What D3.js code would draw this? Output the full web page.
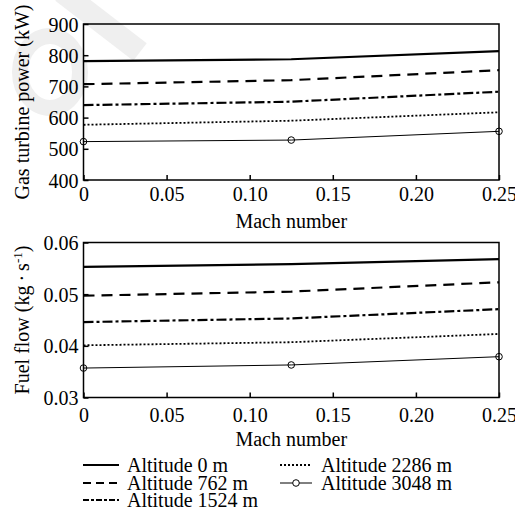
<!DOCTYPE html>
<html>
<head>
<meta charset="utf-8">
<script src="https://cdn.jsdelivr.net/npm/d3@7"></script>
</head>
<body style="margin:0;background:#fff">
<div id="chart"></div>
<script>
// DATA
var machNumbers = [0, 0.125, 0.25];
var altitudeLabels = ["Altitude 0 m", "Altitude 762 m", "Altitude 1524 m", "Altitude 2286 m", "Altitude 3048 m"];

// gas turbine power (kW), one array per altitude
var power0 = [781, 787, 813];
var power762 = [707, 720, 752];
var power1524 = [640, 651, 683];
var power2286 = [577, 590, 617];
var power3048 = [523, 528, 556];

// fuel flow (kg/s), one array per altitude
var fuel0 = [0.0553, 0.0558, 0.0568];
var fuel762 = [0.0497, 0.0505, 0.0523];
var fuel1524 = [0.0446, 0.0453, 0.0471];
var fuel2286 = [0.0401, 0.0407, 0.0423];
var fuel3048 = [0.0357, 0.0363, 0.0379];

var xTicks = [0, 0.05, 0.10, 0.15, 0.20, 0.25];
var powerTicks = [400, 500, 600, 700, 800, 900];
var fuelTicks = [0.03, 0.04, 0.05, 0.06];

// line styles per altitude
var styles = [
  { width: 2.2, dash: null, legendDash: null, marker: false },
  { width: 2.2, dash: "11,7", legendDash: "8,5", marker: false },
  { width: 2.2, dash: "10,3,3,3", legendDash: "6,2,3,2", marker: false },
  { width: 1.8, dash: "2,2", legendDash: "2,2", marker: false },
  { width: 1, dash: null, legendDash: null, marker: true }
];

var serif = '"Liberation Serif"';

// 1. SVG area
var svgWidth = 515;
var svgHeight = 512;

var svg = d3.select("#chart").append("svg")
  .attr("width", svgWidth)
  .attr("height", svgHeight);

// faint watermark in the top-left corner
svg.append("ellipse")
  .attr("cx", 50).attr("cy", 72).attr("rx", 30).attr("ry", 36)
  .attr("fill", "none").attr("stroke", "#efefef").attr("stroke-width", 16);
svg.append("line")
  .attr("x1", 62).attr("y1", -8).attr("x2", 140).attr("y2", 52)
  .attr("stroke", "#efefef").attr("stroke-width", 22);

var plotLeft = 83.5;
var plotRight = 499;

var xScale = d3.scaleLinear()
  .domain([0, 0.25])
  .range([plotLeft, plotRight]);

// draw one panel
function drawPanel(top, bottom, yDomain, yTicks, yFormat, seriesList, yTitle, xPad, xTitleY) {
  var yScale = d3.scaleLinear()
    .domain(yDomain)
    .range([bottom, top]);

  var g = svg.append("g");

  // frame
  g.append("rect")
    .attr("x", plotLeft)
    .attr("y", top)
    .attr("width", plotRight - plotLeft)
    .attr("height", bottom - top)
    .attr("fill", "none")
    .attr("stroke", "#000")
    .attr("stroke-width", 1.5);

  // x axis, ticks pointing inward
  var bottomAxis = d3.axisBottom(xScale)
    .tickValues(xTicks)
    .tickSizeInner(-5)
    .tickSizeOuter(0)
    .tickPadding(xPad)
    .tickFormat(d => d === 0 ? "0" : d3.format(".2f")(d));

  var xAxis = g.append("g")
    .attr("transform", `translate(0, ${bottom})`)
    .call(bottomAxis);

  // y axis, ticks pointing inward
  var leftAxis = d3.axisLeft(yScale)
    .tickValues(yTicks)
    .tickSizeInner(-5)
    .tickSizeOuter(0)
    .tickPadding(5)
    .tickFormat(yFormat);

  var yAxis = g.append("g")
    .attr("transform", `translate(${plotLeft}, 0)`)
    .call(leftAxis);

  [xAxis, yAxis].forEach(function (ax) {
    ax.select(".domain").remove();
    ax.selectAll("line").attr("stroke", "#000").attr("stroke-width", 1.5);
    ax.selectAll("text")
      .style("font-family", serif)
      .style("font-size", "20px")
      .attr("fill", "#000");
  });
  yAxis.selectAll("text").attr("dy", "0.35em");
  xAxis.selectAll("text").attr("dy", "0.72em");

  // lines
  var line = d3.line()
    .x((d, i) => xScale(machNumbers[i]))
    .y(d => yScale(d));

  seriesList.forEach(function (values, k) {
    var st = styles[k];
    g.append("path")
      .datum(values)
      .attr("d", line)
      .attr("fill", "none")
      .attr("stroke", "#000")
      .attr("stroke-width", st.width)
      .attr("stroke-dasharray", st.dash);

    if (st.marker) {
      g.selectAll(".marker" + k)
        .data(values)
        .enter()
        .append("circle")
        .attr("cx", (d, i) => xScale(machNumbers[i]))
        .attr("cy", d => yScale(d))
        .attr("r", 3.3)
        .attr("fill", "none")
        .attr("stroke", "#000")
        .attr("stroke-width", 1);
    }
  });

  // axis titles
  g.append("text")
    .attr("transform", `translate(22, ${(top + bottom) / 2}) rotate(-90)`)
    .attr("text-anchor", "middle")
    .attr("dy", "0.35em")
    .style("font-size", "20px")
    .style("font-family", serif)
    .html(yTitle);

  g.append("text")
    .attr("x", (plotLeft + plotRight) / 2)
    .attr("y", xTitleY)
    .attr("text-anchor", "middle")
    .style("font-size", "20px")
    .style("font-family", serif)
    .text("Mach number");
}

drawPanel(24, 180, [400, 900], powerTicks, d3.format("d"),
  [power0, power762, power1524, power2286, power3048],
  "Gas turbine power (kW)", 7, 228);

drawPanel(242.5, 397.5, [0.03, 0.06], fuelTicks, d3.format(".2f"),
  [fuel0, fuel762, fuel1524, fuel2286, fuel3048],
  "Fuel flow (kg\u2009\u00b7\u2009s<tspan dy='-7' font-size='13px'>-1</tspan><tspan dy='7'>)</tspan>", 10, 446);

// 4. Legend
var legendItems = [
  { col: 0, row: 0 }, { col: 0, row: 1 }, { col: 0, row: 2 },
  { col: 1, row: 0 }, { col: 1, row: 1 }
];
var legendCols = [{ x0: 83, x1: 119, tx: 127 }, { x0: 280, x1: 312, tx: 321 }];
var legendRowY = [465, 483, 500];

legendItems.forEach(function (item, k) {
  var c = legendCols[item.col];
  var y = legendRowY[item.row];
  var st = styles[k];
  svg.append("line")
    .attr("x1", c.x0)
    .attr("x2", c.x1)
    .attr("y1", y)
    .attr("y2", y)
    .attr("stroke", "#000")
    .attr("stroke-width", st.width)
    .attr("stroke-dasharray", st.legendDash);
  if (st.marker) {
    svg.append("circle")
      .attr("cx", (c.x0 + c.x1) / 2)
      .attr("cy", y)
      .attr("r", 3.3)
      .attr("fill", "#fff")
      .attr("stroke", "#000")
      .attr("stroke-width", 1);
  }
  svg.append("text")
    .attr("x", c.tx)
    .attr("y", y)
    .attr("dy", "0.35em")
    .style("font-size", "20px")
    .style("font-family", serif)
    .text(altitudeLabels[k]);
});
</script>
</body>
</html>
